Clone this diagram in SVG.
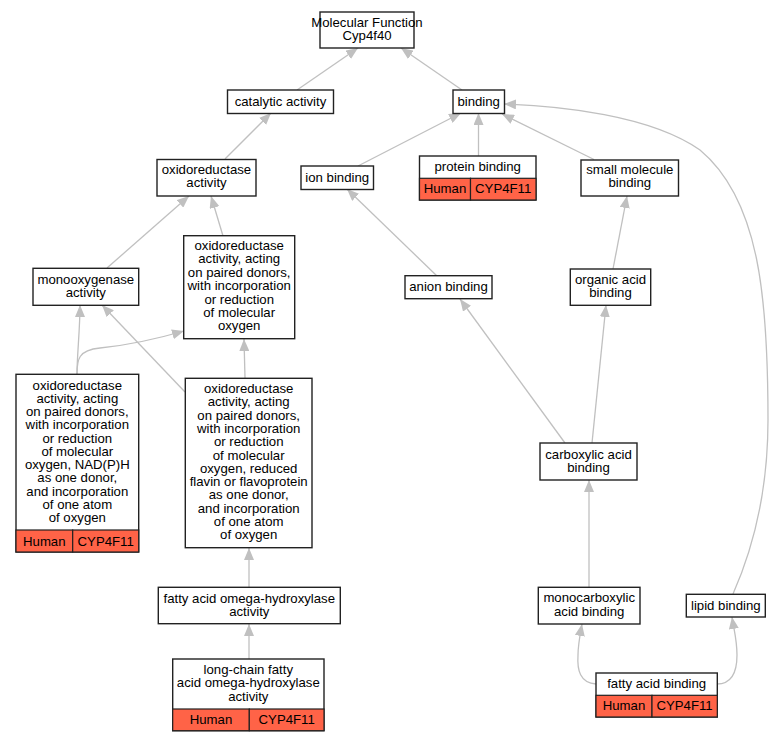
<svg xmlns="http://www.w3.org/2000/svg" width="780" height="741" viewBox="0 0 780 741">
<style>
.b{fill:#fff;stroke:#222;stroke-width:1.4}
.r{fill:#ff6347;stroke:#222;stroke-width:1.2}
text{font-family:"Liberation Sans",Arial,sans-serif;font-size:13.2px;fill:#000;text-anchor:middle}
.e{fill:none;stroke:#c0c0c0;stroke-width:1.3;marker-end:url(#a)}
</style>
<defs>
<marker id="a" markerUnits="userSpaceOnUse" markerWidth="12" markerHeight="10" refX="12" refY="5" orient="auto">
<path d="M0,0 L12,5 L0,10 z" fill="#c0c0c0"/>
</marker>
</defs>
<rect width="780" height="741" fill="#fff"/>
<g id="edges">
<path class="e" d="M297,90 L358,48"/>
<path class="e" d="M462,90 L401,48"/>
<path class="e" d="M225,159 L271,113"/>
<path class="e" d="M107,268 L189,196"/>
<path class="e" d="M223,236 L211,196"/>
<path class="e" d="M77,374 C77,355 80,330 80,305"/>
<path class="e" d="M77,374 C77,360 78,350 100,348 C130,345 160,338 184,331"/>
<path class="e" d="M185,392 L102,305"/>
<path class="e" d="M245,378 L244,339"/>
<path class="e" d="M249,587 L249,548"/>
<path class="e" d="M249,659 L249,624"/>
<path class="e" d="M358,166 L461,113"/>
<path class="e" d="M478.5,156 L478.5,113"/>
<path class="e" d="M594,159.5 L502,114"/>
<path class="e" d="M733,594 C748,560 768,500 768,420 C768,300 760,200 700,150 C650,115 560,106 504,104"/>
<path class="e" d="M437,276 L347,189"/>
<path class="e" d="M565,443 L460,299"/>
<path class="e" d="M613,269 L627,196"/>
<path class="e" d="M592,443 L606,305"/>
<path class="e" d="M589,587 L589,480"/>
<path class="e" d="M596,684 C580,683 577,670 578,655 C578,645 580,635 582,624"/>
<path class="e" d="M717,684 C733,684 737,670 737,655 C737,640 734,630 732,617"/>
</g>
<g id="mf">
<rect class="b" x="320" y="12" width="94" height="36"/>
<text x="367" y="26.5">Molecular Function<tspan x="367" dy="13">Cyp4f40</tspan></text>
</g>
<g id="catalytic">
<rect class="b" x="227.5" y="90" width="106" height="23.5"/>
<text x="280.5" y="106">catalytic activity</text>
</g>
<g id="binding">
<rect class="b" x="453" y="90" width="51.5" height="23.5"/>
<text x="478.7" y="106">binding</text>
</g>
<g id="oxred">
<rect class="b" x="157" y="159.5" width="99" height="36.5"/>
<text x="206.5" y="174">oxidoreductase<tspan x="206.5" dy="13">activity</tspan></text>
</g>
<g id="ion">
<rect class="b" x="301" y="166" width="72.5" height="23.5"/>
<text x="337.2" y="182">ion binding</text>
</g>
<g id="protein">
<rect class="b" x="419.5" y="156" width="116.5" height="44"/>
<rect class="r" x="419.5" y="178.3" width="51" height="21.7"/>
<rect class="r" x="470.5" y="178.3" width="65.5" height="21.7"/>
<text x="477.7" y="170.5">protein binding</text>
<text x="445" y="193">Human</text>
<text x="503.2" y="193">CYP4F11</text>
</g>
<g id="smallmol">
<rect class="b" x="581" y="160" width="97.5" height="36"/>
<text x="629.8" y="174">small molecule<tspan x="629.8" dy="13.2">binding</tspan></text>
</g>
<g id="anion">
<rect class="b" x="405" y="275.7" width="87" height="23"/>
<text x="448.5" y="291">anion binding</text>
</g>
<g id="organic">
<rect class="b" x="570.3" y="269" width="80.4" height="36.3"/>
<text x="610.5" y="283.5">organic acid<tspan x="610.5" dy="13.3">binding</tspan></text>
</g>
<g id="mono">
<rect class="b" x="33" y="268.3" width="105.7" height="37"/>
<text x="85.8" y="283.5">monooxygenase<tspan x="85.8" dy="13.3">activity</tspan></text>
</g>
<g id="paired">
<rect class="b" x="183.7" y="235.7" width="111" height="103"/>
<text x="239.2" y="250">oxidoreductase<tspan x="239.2" dy="13.4">activity, acting</tspan><tspan x="239.2" dy="13.4">on paired donors,</tspan><tspan x="239.2" dy="13.4">with incorporation</tspan><tspan x="239.2" dy="13.4">or reduction</tspan><tspan x="239.2" dy="13.4">of molecular</tspan><tspan x="239.2" dy="13.4">oxygen</tspan></text>
</g>
<g id="nadph">
<rect class="b" x="16" y="374.3" width="122.7" height="177.7"/>
<rect class="r" x="16" y="530" width="56.7" height="22"/>
<rect class="r" x="72.7" y="530" width="66" height="22"/>
<text x="77.3" y="389.5">oxidoreductase<tspan x="77.3" dy="13.25">activity, acting</tspan><tspan x="77.3" dy="13.25">on paired donors,</tspan><tspan x="77.3" dy="13.25">with incorporation</tspan><tspan x="77.3" dy="13.25">or reduction</tspan><tspan x="77.3" dy="13.25">of molecular</tspan><tspan x="77.3" dy="13.25">oxygen, NAD(P)H</tspan><tspan x="77.3" dy="13.25">as one donor,</tspan><tspan x="77.3" dy="13.25">and incorporation</tspan><tspan x="77.3" dy="13.25">of one atom</tspan><tspan x="77.3" dy="13.25">of oxygen</tspan></text>
<text x="44.3" y="545.5">Human</text>
<text x="105.7" y="545.5">CYP4F11</text>
</g>
<g id="flavin">
<rect class="b" x="185.3" y="378.3" width="126.7" height="169.4"/>
<text x="248.7" y="393.2">oxidoreductase<tspan x="248.7" dy="13.27">activity, acting</tspan><tspan x="248.7" dy="13.27">on paired donors,</tspan><tspan x="248.7" dy="13.27">with incorporation</tspan><tspan x="248.7" dy="13.27">or reduction</tspan><tspan x="248.7" dy="13.27">of molecular</tspan><tspan x="248.7" dy="13.27">oxygen, reduced</tspan><tspan x="248.7" dy="13.27">flavin or flavoprotein</tspan><tspan x="248.7" dy="13.27">as one donor,</tspan><tspan x="248.7" dy="13.27">and incorporation</tspan><tspan x="248.7" dy="13.27">of one atom</tspan><tspan x="248.7" dy="13.27">of oxygen</tspan></text>
</g>
<g id="carboxylic">
<rect class="b" x="540" y="443" width="97" height="37"/>
<text x="588.5" y="458.5">carboxylic acid<tspan x="588.5" dy="13.3">binding</tspan></text>
</g>
<g id="omega">
<rect class="b" x="158.3" y="587.3" width="182" height="36.4"/>
<text x="249.3" y="602.5">fatty acid omega-hydroxylase<tspan x="249.3" dy="13.3">activity</tspan></text>
</g>
<g id="longchain">
<rect class="b" x="172.7" y="659" width="151.3" height="71.7"/>
<rect class="r" x="172.7" y="709" width="76.6" height="21.7"/>
<rect class="r" x="249.3" y="709" width="74.7" height="21.7"/>
<text x="248.3" y="674">long-chain fatty<tspan x="248.3" dy="13.3">acid omega-hydroxylase</tspan><tspan x="248.3" dy="13.3">activity</tspan></text>
<text x="211" y="723.5">Human</text>
<text x="286.7" y="723.5">CYP4F11</text>
</g>
<g id="monocarb">
<rect class="b" x="538.3" y="587.3" width="101.7" height="36.7"/>
<text x="589.2" y="602.3">monocarboxylic<tspan x="589.2" dy="13.3">acid binding</tspan></text>
</g>
<g id="lipid">
<rect class="b" x="686.3" y="594.3" width="79" height="22.7"/>
<text x="725.8" y="610">lipid binding</text>
</g>
<g id="fattyacid">
<rect class="b" x="596" y="673" width="121.3" height="44"/>
<rect class="r" x="596" y="695.3" width="56" height="21.7"/>
<rect class="r" x="652" y="695.3" width="65.3" height="21.7"/>
<text x="656.7" y="688">fatty acid binding</text>
<text x="624" y="710">Human</text>
<text x="684.6" y="710">CYP4F11</text>
</g>
</svg>
